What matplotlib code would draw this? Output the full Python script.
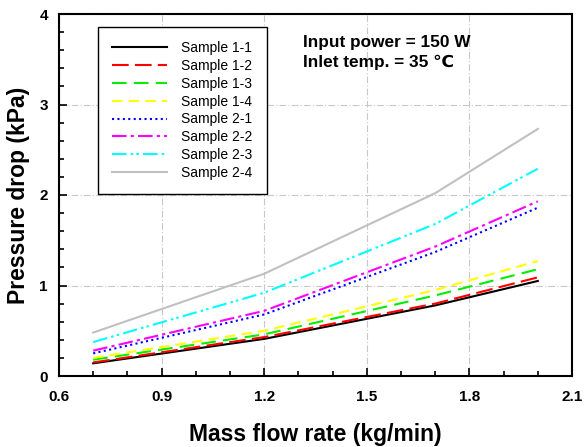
import matplotlib
matplotlib.use("Agg")
import matplotlib.pyplot as plt
from matplotlib.ticker import MultipleLocator, FixedLocator

plt.rcParams['font.family'] = ['Liberation Sans', 'DejaVu Sans']

mass_flow = [0.7, 1.2, 1.7, 2.0]
labels = ["Sample 1-1", "Sample 1-2", "Sample 1-3", "Sample 1-4",
          "Sample 2-1", "Sample 2-2", "Sample 2-3", "Sample 2-4"]
s11 = [0.14, 0.41, 0.78, 1.05]
s12 = [0.15, 0.43, 0.80, 1.09]
s13 = [0.18, 0.46, 0.89, 1.18]
s14 = [0.20, 0.50, 0.95, 1.27]
s21 = [0.25, 0.68, 1.37, 1.86]
s22 = [0.28, 0.72, 1.43, 1.93]
s23 = [0.375, 0.92, 1.68, 2.29]
s24 = [0.48, 1.13, 2.02, 2.73]
series = [s11, s12, s13, s14, s21, s22, s23, s24]

colors = ['#000000', '#ff0000', '#00ee00', '#ffff00', '#0000ff', '#ff00ff', '#00ffff', '#c0c0c0']
styles = ['-', (0, (8, 3)), (0, (7, 3.5)), (0, (5, 3)), (0, (1, 1.6)),
          (0, (7, 2, 1.5, 2)), (0, (7, 2, 1.2, 1.5, 1.2, 2)), '-']

fig = plt.figure(figsize=(5.87, 4.47), dpi=100)
ax = fig.add_axes([59/587, 1-376/447, (572-59)/587, (376-14)/447])

for y, lab, c, ls in zip(series, labels, colors, styles):
    ax.plot(mass_flow, y, color=c, linestyle=ls, linewidth=1.5, label=lab)

ax.set_xlim(0.6, 2.1)
ax.set_ylim(0, 4)
ax.xaxis.set_major_locator(FixedLocator([0.6, 0.9, 1.2, 1.5, 1.8, 2.1]))
ax.xaxis.set_minor_locator(MultipleLocator(0.1))
ax.yaxis.set_major_locator(MultipleLocator(1))
ax.yaxis.set_minor_locator(MultipleLocator(0.2))
ax.set_xticklabels(["0.6", "0.9", "1.2", "1.5", "1.8", "2.1"])
ax.tick_params(which='both', direction='in', top=False, right=False, width=1.2)
ax.tick_params(which='major', length=6, labelsize=11)
ax.tick_params(axis='x', which='major', pad=10)
ax.tick_params(axis='y', which='major', pad=8)
ax.tick_params(which='minor', length=3.5)
for t in ax.get_xticklabels() + ax.get_yticklabels():
    t.set_fontweight('bold')
for s in ax.spines.values():
    s.set_linewidth(1.5)
ax.grid(True, which='major', color='#c8c8c8', linestyle=(0, (6, 2, 1, 2)), linewidth=0.8)
ax.set_axisbelow(True)

ax.set_xlabel("Mass flow rate (kg/min)", fontsize=16.5, fontweight='bold', labelpad=14)
ax.set_ylabel("Pressure drop (kPa)", fontsize=16.5, fontweight='bold', labelpad=7)

leg = ax.legend(loc='upper left', bbox_to_anchor=((98-59)/513, (376-27)/362),
                fontsize=10, frameon=True, fancybox=False, edgecolor='black',
                handlelength=4.0, handletextpad=1.0, labelspacing=0.28,
                borderpad=1.0, borderaxespad=0)
leg.get_frame().set_linewidth(1.0)
leg.get_frame().set_alpha(1)

ax.text(303/587, 1-42/447, "Input power = 150 W", transform=fig.transFigure,
        fontsize=12.4, fontweight='bold', va='center', ha='left')
ax.text(303/587, 1-62/447, "Inlet temp. = 35 \u2103", transform=fig.transFigure,
        fontsize=12.4, fontweight='bold', va='center', ha='left')

fig.savefig("out.png", dpi=100)
